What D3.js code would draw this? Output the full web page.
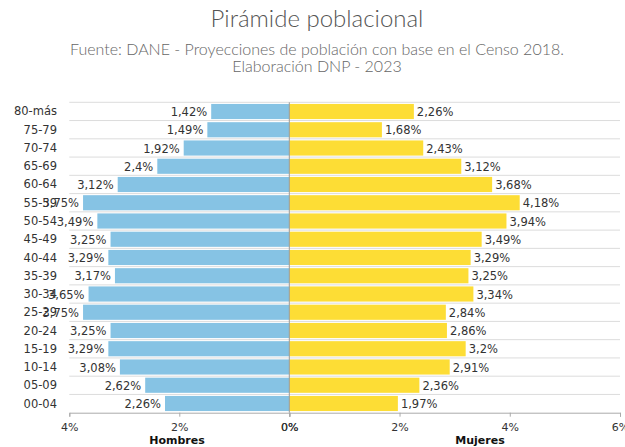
<!DOCTYPE html>
<html><head><meta charset="utf-8">
<script src="https://cdn.jsdelivr.net/npm/d3@7"></script>
<style>body{margin:0;background:#fff;}svg{display:block;}</style>
</head><body>
<svg id="c" width="625" height="447"></svg>
<script>
const ageGroups = ["80-más","75-79","70-74","65-69","60-64","55-59","50-54","45-49","40-44","35-39","30-34","25-29","20-24","15-19","10-14","05-09","00-04"];
const hombres = [1.42,1.49,1.92,2.4,3.12,3.75,3.49,3.25,3.29,3.17,3.65,3.75,3.25,3.29,3.08,2.62,2.26];
const mujeres = [2.26,1.68,2.43,3.12,3.68,4.18,3.94,3.49,3.29,3.25,3.34,2.84,2.86,3.2,2.91,2.36,1.97];
const leftTicks = [4,2,0];
const rightTicks = [0,2,4,6];

(function(){
const svg = d3.select("#c");
const fmt = v => String(v).replace(".", ",") + "%";
const plotTop = 102.3, plotBottom = 412.7, zeroX = 289.3;

const y = d3.scaleBand().domain(ageGroups).range([plotTop, plotBottom]).paddingInner(0.17).paddingOuter(0.09);
const yRow = d3.scaleBand().domain(ageGroups).range([plotTop, plotBottom]);
const xL = d3.scaleLinear().domain([0,4]).range([zeroX, 69.3]);
const xR = d3.scaleLinear().domain([0,6]).range([zeroX, 620]);

const titleFont = "Lato, 'Open Sans', sans-serif";
const font = "'DejaVu Sans', Verdana, sans-serif";

svg.append("text").attr("x", 317).attr("y", 27).attr("text-anchor","middle")
  .attr("font-family",titleFont).attr("font-weight",300)
  .attr("font-size",24).attr("fill","#555").text("Pirámide poblacional");
svg.append("text").attr("x", 317).attr("y", 55).attr("text-anchor","middle")
  .attr("font-family",titleFont).attr("font-weight",300)
  .attr("font-size",16).attr("fill","#666").text("Fuente: DANE - Proyecciones de población con base en el Censo 2018.");
svg.append("text").attr("x", 317).attr("y", 72).attr("text-anchor","middle")
  .attr("font-family",titleFont).attr("font-weight",300)
  .attr("font-size",16).attr("fill","#666").text("Elaboración DNP - 2023");

// gridlines
const bounds = ageGroups.map(a => yRow(a));
svg.append("g").selectAll("line").data(bounds).join("line")
  .attr("x1", 69.3).attr("x2", 620).attr("y1", d => d).attr("y2", d => d)
  .attr("stroke","#dcdcdc").attr("stroke-width",1);

// bars
svg.append("g").selectAll("rect").data(ageGroups).join("rect")
  .attr("x", (d,i) => xL(hombres[i])).attr("y", d => y(d))
  .attr("width", (d,i) => zeroX - xL(hombres[i])).attr("height", y.bandwidth())
  .attr("fill","#86C3E4");
svg.append("g").selectAll("rect").data(ageGroups).join("rect")
  .attr("x", zeroX).attr("y", d => y(d))
  .attr("width", (d,i) => xR(mujeres[i]) - zeroX).attr("height", y.bandwidth())
  .attr("fill","#FDDD35");

svg.append("line").attr("x1", zeroX).attr("x2", zeroX).attr("y1", plotTop).attr("y2", plotBottom)
  .attr("stroke","#999").attr("stroke-width",1);

// category labels
svg.append("g").selectAll("text").data(ageGroups).join("text")
  .attr("x", 57).attr("y", d => yRow(d) + yRow.bandwidth()/2).attr("dy","0.35em")
  .attr("text-anchor","end").attr("font-family",font)
  .attr("font-size",11.5).attr("fill","#333").text(d => d);

// value labels
svg.append("g").selectAll("text").data(ageGroups).join("text")
  .attr("x", (d,i) => xL(hombres[i]) - 4).attr("y", d => yRow(d) + yRow.bandwidth()/2).attr("dy","0.4em")
  .attr("text-anchor","end").attr("font-family",font)
  .attr("font-size",11.5).attr("fill","#333").text((d,i) => fmt(hombres[i]));
svg.append("g").selectAll("text").data(ageGroups).join("text")
  .attr("x", (d,i) => xR(mujeres[i]) + 3).attr("y", d => yRow(d) + yRow.bandwidth()/2).attr("dy","0.4em")
  .attr("text-anchor","start").attr("font-family",font)
  .attr("font-size",11.5).attr("fill","#333").text((d,i) => fmt(mujeres[i]));

// axes
const axL = d3.axisBottom(xL).tickValues(leftTicks).tickFormat(d => d + "%").tickSizeOuter(0).tickSize(4);
const axR = d3.axisBottom(xR).tickValues(rightTicks).tickFormat(d => d + "%").tickSizeOuter(0).tickSize(4);
[axL, axR].forEach(ax => {
  const g = svg.append("g").attr("transform", `translate(0,${plotBottom})`).call(ax);
  g.select(".domain").attr("stroke","#aaa");
  g.selectAll(".tick line").attr("stroke","#aaa");
  g.selectAll(".tick text").attr("font-family",font)
    .attr("font-size",11).attr("fill","#333").attr("y",11).attr("dy","0.71em");
});

svg.append("text").attr("x",177).attr("y",444).attr("text-anchor","middle")
  .attr("font-family",font).attr("font-weight","bold")
  .attr("font-size",11).attr("fill","#111").text("Hombres");
svg.append("text").attr("x",480).attr("y",444).attr("text-anchor","middle")
  .attr("font-family",font).attr("font-weight","bold")
  .attr("font-size",11).attr("fill","#111").text("Mujeres");
})();
</script>
</body></html>
